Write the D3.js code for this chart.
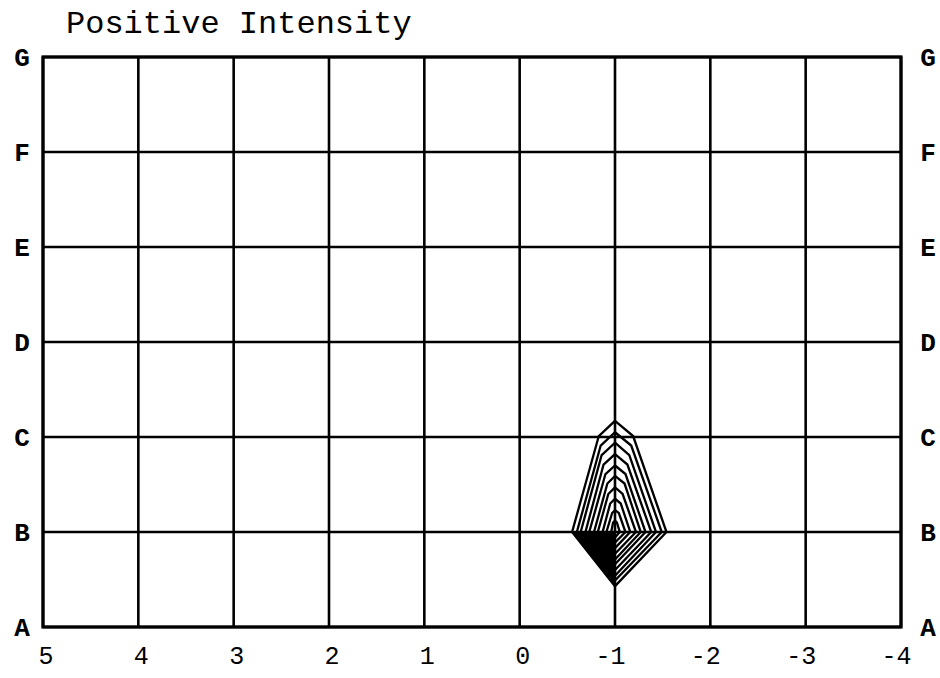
<!DOCTYPE html>
<html>
<head>
<meta charset="utf-8">
<script src="https://cdn.jsdelivr.net/npm/d3@7"></script>
<style>
  body { margin: 0; background: #fff; }
  text { font-family: "Liberation Mono", "DejaVu Sans Mono", monospace; fill: #000; }
</style>
</head>
<body>
<div id="chart"></div>
<script>
// x ticks (reversed axis) and row categories
var xTicks = [5, 4, 3, 2, 1, 0, -1, -2, -3, -4]
var rows = ["A", "B", "C", "D", "E", "F", "G"]

// nested contours, outer to inner (x in intensity units, y in row units, A=0)
var apexY      = [2.17, 2.05, 1.94, 1.82, 1.70, 1.59, 1.47, 1.35, 1.23, 1.12]
var shoulderY  = [2.01, 1.91, 1.81, 1.71, 1.61, 1.51, 1.40, 1.30, 1.20, 1.10]
var shoulderLX = [-0.83, -0.85, -0.86, -0.88, -0.90, -0.92, -0.93, -0.95, -0.97, -0.98]
var shoulderRX = [-1.19, -1.17, -1.15, -1.13, -1.11, -1.10, -1.08, -1.06, -1.04, -1.02]
var leftX      = [-0.55, -0.60, -0.64, -0.69, -0.73, -0.78, -0.82, -0.87, -0.91, -0.96]
var rightX     = [-1.54, -1.49, -1.43, -1.38, -1.32, -1.27, -1.22, -1.16, -1.11, -1.05]
var bottomY    = [0.43, 0.49, 0.54, 0.60, 0.66, 0.71, 0.77, 0.83, 0.89, 0.94]
var centerX = -1
var centerRow = 1

var width = 940, height = 678
var svg = d3.select('#chart').append('svg').attr('width', width).attr('height', height)

var x = d3.scaleLinear().domain([5, -4]).range([43, 901])
var yRow = d3.scalePoint().domain(rows).range([627, 57])
var y = d3.scaleLinear().domain([0, 6]).range([627, 57])

// title
svg.append('text').attr('x', 66).attr('y', 33).style('font-size', '32px').text('Positive Intensity')

// grid
svg.append('g').selectAll('line.v').data(xTicks).enter().append('line')
  .attr('x1', d => x(d)).attr('x2', d => x(d))
  .attr('y1', yRow('G')).attr('y2', yRow('A'))
  .attr('stroke', '#000').attr('stroke-width', 2.6)
svg.append('g').selectAll('line.h').data(rows).enter().append('line')
  .attr('x1', x(5)).attr('x2', x(-4))
  .attr('y1', d => yRow(d)).attr('y2', d => yRow(d))
  .attr('stroke', '#000').attr('stroke-width', 2.6)
svg.append('rect')
  .attr('x', x(5)).attr('y', yRow('G'))
  .attr('width', x(-4) - x(5)).attr('height', yRow('A') - yRow('G'))
  .attr('fill', 'none').attr('stroke', '#000').attr('stroke-width', 3.2)

// axes labels
var axisX = d3.axisBottom(x).tickValues(xTicks).tickSize(0)
  .tickFormat(d => d < 0 ? '-' + Math.abs(d) : String(d))
var gx = svg.append('g').attr('transform', 'translate(0,' + yRow('A') + ')').call(axisX)
gx.select('.domain').remove()
gx.selectAll('text').attr('text-anchor', 'end').attr('dx', 10).attr('y', 19)
  .style('font-size', '25px').style('font-family', '"Liberation Mono", monospace')

var axisL = d3.axisLeft(yRow).tickSize(0)
var gl = svg.append('g').attr('transform', 'translate(' + 22 + ',0)').call(axisL)
gl.select('.domain').remove()
gl.selectAll('text').attr('text-anchor', 'middle').attr('x', 0).attr('dy', '0.32em')
  .style('font-size', '26px').style('font-family', '"Liberation Mono", monospace').style('font-weight', 'bold')

var axisR = d3.axisRight(yRow).tickSize(0)
var gr = svg.append('g').attr('transform', 'translate(' + 928 + ',0)').call(axisR)
gr.select('.domain').remove()
gr.selectAll('text').attr('text-anchor', 'middle').attr('x', 0).attr('dy', '0.32em')
  .style('font-size', '26px').style('font-family', '"Liberation Mono", monospace').style('font-weight', 'bold')

// contours
var contours = apexY.map((a, i) => [
  [centerX, a],
  [shoulderRX[i], shoulderY[i]],
  [rightX[i], centerRow],
  [centerX, bottomY[i]],
  [leftX[i], centerRow],
  [shoulderLX[i], shoulderY[i]]
])
var line = d3.line().x(d => x(d[0])).y(d => y(d[1])).curve(d3.curveLinearClosed)

// dense lower-left quadrant
svg.append('path')
  .attr('d', line([[leftX[0], centerRow], [centerX, centerRow], [centerX, bottomY[0]]]))
  .attr('fill', '#000')

svg.append('g').selectAll('path.contour').data(contours).enter().append('path')
  .attr('class', 'contour')
  .attr('d', d => line(d))
  .attr('fill', 'none').attr('stroke', '#000').attr('stroke-width', 2.3).attr('stroke-linejoin', 'miter')
</script>
</body>
</html>
